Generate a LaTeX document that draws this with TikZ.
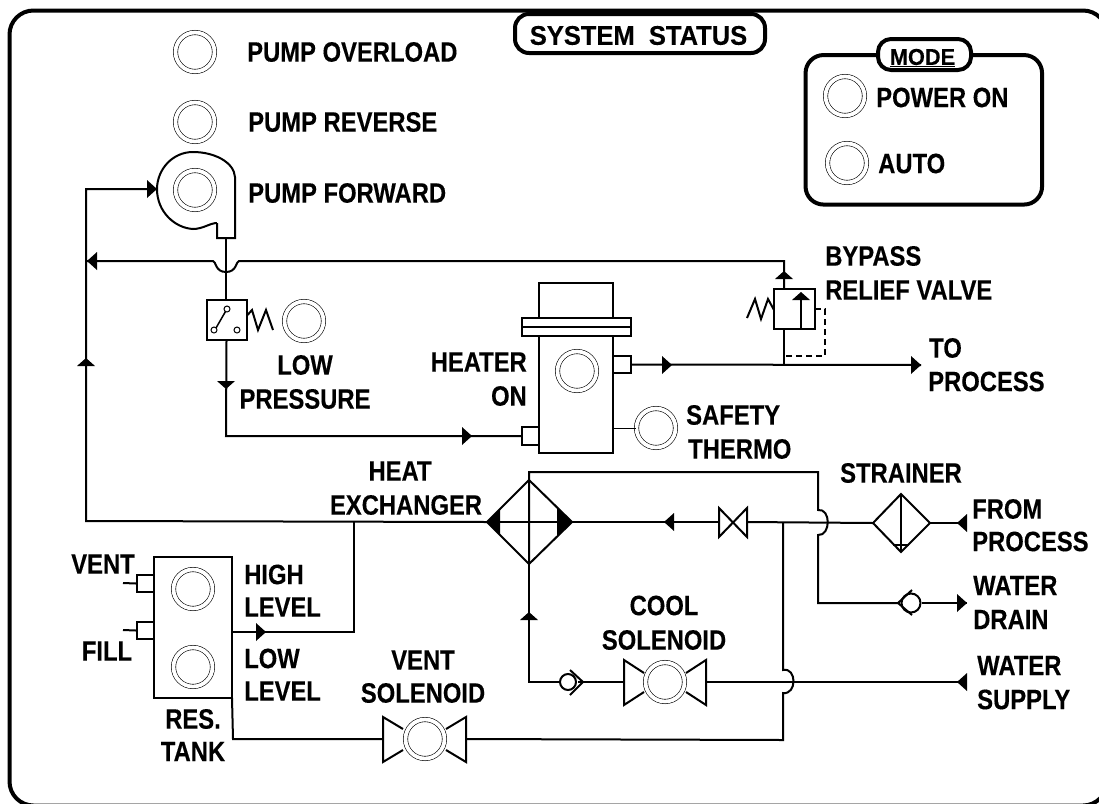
\documentclass[tikz,border=0pt]{standalone}
\usepackage{fontspec}
\setmainfont[FakeStretch=0.85,FakeBold=0.25]{Liberation Sans}
\newfontfamily\widefont[FakeStretch=0.945,FakeBold=0.25]{Liberation Sans}
\begin{document}
\begin{tikzpicture}[x=1pt,y=-1pt,
  wire/.style={line width=2pt,line join=miter},
  part/.style={line width=2pt,line join=miter},
  thickframe/.style={line width=4pt},
  lamp/.style={circle,draw,line width=0.6pt,double=white,double distance=3.8pt,minimum size=39pt,inner sep=0pt,fill=white},
  lbl/.style={font=\fontsize{28}{31}\selectfont\bfseries,align=center,inner sep=0pt},
  lbll/.style={lbl,align=left},
  head/.style={fill=black,draw=none}]
\useasboundingbox (0,0) rectangle (1099,803);
\fill[white] (0,0) rectangle (1099,803);
\newcommand{\arrR}[2]{\fill[head] (#1,#2-9) -- (#1+10,#2) -- (#1,#2+9) -- cycle;}
\newcommand{\arrL}[2]{\fill[head] (#1,#2-9) -- (#1-10,#2) -- (#1,#2+9) -- cycle;}
\newcommand{\arrU}[2]{\fill[head] (#1-9,#2) -- (#1,#2-8) -- (#1+9,#2) -- cycle;}
\newcommand{\arrD}[2]{\fill[head] (#1-9,#2) -- (#1,#2+8) -- (#1+9,#2) -- cycle;}
% frame (right and bottom sides fall at the page edge)
\clip (0,0) rectangle (1099,803);
\draw[thickframe,rounded corners=24pt] (9.5,10.5) rectangle (1107,805.5);
% system status
\node[thickframe,draw,fill=white,rounded corners=14pt,minimum width=250pt,minimum height=39pt,inner sep=0pt] (sysbox) at (640,33.5) {};
\node[lbl,font=\fontsize{27}{31}\selectfont\bfseries\widefont] (syst) at (638.5,35.5) {SYSTEM\ \ STATUS};
% mode
\node[thickframe,draw,rounded corners=18pt,minimum width=236.5pt,minimum height=149.5pt,inner sep=0pt] (modebox) at (923.8,129.8) {};
\node[thickframe,draw,fill=white,rounded corners=13pt,minimum width=93pt,minimum height=31pt,inner sep=0pt] (modetag) at (924.5,54.5) {};
\node[lbl,font=\fontsize{23}{26}\selectfont\bfseries\widefont] (modet) at (922.5,58) {\underline{MODE}};
\node[lamp] (lpower) at (845,96) {};
\node[lamp] (lauto) at (847,163) {};
\node[lbll,anchor=west] (tpower) at (876,97.5) {POWER ON};
\node[lbll,anchor=west] (tauto) at (878,163.5) {AUTO};
% status labels
\node[lamp] (lover) at (195,52) {};
\node[lbll,anchor=west] (tover) at (247,52) {PUMP OVERLOAD};
\node[lamp] (lrev) at (195,122) {};
\node[lbll,anchor=west] (trev) at (248,122) {PUMP REVERSE};
\node[lbll,anchor=west] (tfwd) at (248,193) {PUMP FORWARD};
% pump
\draw[part] (217,223) -- (217,238) -- (235,238) -- (235,177)
  .. controls (234,162) and (214,152) .. (193,152)
  .. controls (172,152) and (157,170) .. (157,189)
  .. controls (157,212) and (175,228) .. (193,229)
  .. controls (203,229) and (210,223) .. (217,223);
\node[lamp] (lfwd) at (195,190) {};
% left main wires
\coordinate (pumpin) at (157,189);
\coordinate (leftcorner) at (86,189);
\coordinate (leftbottom) at (86,521);
\coordinate (hxleft) at (487,522);
\draw[wire] (pumpin) -- (leftcorner) -- (leftbottom) -- (hxleft);
\arrR{147}{189}
\arrU{86}{366}
% return line with crossover
\coordinate (retend) at (86,261);
\coordinate (valvetop) at (784,261);
\draw[wire] (retend) -- (213,261) .. controls (216,261) and (215,272) .. (226,272)
  .. controls (237,272) and (236,261) .. (239,261) -- (valvetop) -- (784,289);
\arrL{97}{261}
\arrU{784}{279}
% switch
\draw[wire] (226,238) -- (226,300);
\node[part,draw,minimum size=40pt,inner sep=0pt] (switch) at (226.5,320) {};
\draw[line width=1pt] (227,309) circle (3pt) (214,330) circle (3pt) (237,330) circle (3pt);
\draw[line width=1.5pt] (225.5,311.5) -- (216,328);
\draw[part] (switch.east) ++(0,-5) -- (252,310) -- (258,330) -- (266,310) -- (273,330);
\node[lamp] (llow) at (304,321) {};
\node[lbl] (tlow) at (305,365) {LOW};
\node[lbl] (tpress) at (305,399) {PRESSURE};
% switch to heater
\node[part,draw,minimum width=17pt,minimum height=18pt,inner sep=0pt] (hin) at (530.5,436) {};
\draw[wire] (switch.south) -- (226,436) -- (hin.west);
\arrD{226}{381}
\arrR{462}{436}
% heater
\node[part,draw,minimum width=74pt,minimum height=135pt,inner sep=0pt] (heatbody) at (576,385.5) {};
\node[part,draw,minimum width=74pt,minimum height=36pt,inner sep=0pt] (heattop) at (576,300.5) {};
\node[part,draw,fill=white,minimum width=109pt,minimum height=18pt,inner sep=0pt] (flange) at (576.5,327) {};
\draw[line width=1.4pt] (flange.west) -- (flange.east);
\node[lamp] (lheat) at (577,371) {};
\node[part,draw,minimum width=18pt,minimum height=17pt,inner sep=0pt] (hout) at (622,364.5) {};
\node[lbl,anchor=east] (theat) at (527,362) {HEATER};
\node[lbl,anchor=east] (theat2) at (527,396) {ON};
\node[lamp] (lsafe) at (656,428) {};
\draw[line width=0.6pt] (613,428) -- (lsafe);
\node[lbll,anchor=west] (tsafe) at (686,415) {SAFETY};
\node[lbll,anchor=west] (tthermo) at (688,449) {THERMO};
% to process
\coordinate (toproc) at (921,365);
\draw[wire] (hout.east) -- (toproc);
\arrR{662}{365}
\arrR{911}{365}
\node[lbll,anchor=west] (tto) at (929,348) {TO};
\node[lbll,anchor=west] (tproc) at (928,381.5) {PROCESS};
% relief valve
\node[part,draw,minimum width=41pt,minimum height=40pt,inner sep=0pt] (valve) at (794.5,309) {};
\draw[wire] (784,329) -- (784,365);
\draw[wire] (801,300) -- (801,329);
\arrU{801}{300}
\draw[part] (774,310) -- (768,299) -- (761,319) -- (755,299) -- (747,318);
\draw[part,dash pattern=on 6pt off 4pt] (815,309) -- (825,309) -- (825,356) -- (784,356);
\node[lbll,anchor=west] (tbyp) at (825,256) {BYPASS};
\node[lbll,anchor=west] (trel) at (825,290) {RELIEF VALVE};
% heat exchanger
\node[lbl] (thx) at (400,471) {HEAT};
\node[lbl] (thx2) at (406,505) {EXCHANGER};
\draw[part] (487,522) -- (529,480) -- (572,522) -- (529,564) -- cycle;
\draw[part] (487,522) -- (572,522);
\fill[head] (487,522) -- (500,509) -- (500,535) -- cycle;
\fill[head] (572,522) -- (557,507) -- (557,537) -- cycle;
\coordinate (hxtop) at (529,472);
\coordinate (hxbot) at (529,564);
\coordinate (xjump) at (818,472);
\draw[wire] (hxbot) -- (hxtop) -- (xjump) -- (818,510)
  .. controls (831,508) and (831,536) .. (818,535) -- (818,603) -- (898,603);
% main line
\coordinate (bowl) at (719,522);
\coordinate (bowr) at (747,522);
\coordinate (strl) at (873,523);
\coordinate (junc1) at (783,522);
\draw[wire] (572,522) -- (bowl);
\draw[wire] (bowr) -- (strl);
\draw[part] (719,508) -- (747,537) -- (747,508) -- (719,537) -- cycle;
\arrL{674}{522}
% strainer
\draw[part] (873,523) -- (901,494) -- (930,523) -- (901,552) -- cycle;
\draw[part] (901,494) -- (901,552);
\draw[line width=1.4pt] (893,545) -- (909,545);
\coordinate (fromp) at (967,523);
\draw[wire] (930,523) -- (fromp);
\arrL{967}{523}
\node[lbl] (tstr) at (901,473) {STRAINER};
\node[lbll,anchor=west] (tfrom) at (972,509) {FROM};
\node[lbll,anchor=west] (tfrom2) at (972,541.5) {PROCESS};
% drain
\node[circle,draw,line width=2pt,minimum size=19pt,inner sep=0pt,fill=white] (drainc) at (911,603) {};
\draw[part] (912,590) -- (898,603) -- (912,615);
\coordinate (drainend) at (967,603);
\draw[wire] (drainc) -- (drainend);
\arrR{957}{603}
\node[lbll,anchor=west] (twd) at (973,585.5) {WATER};
\node[lbll,anchor=west] (twd2) at (973,619.5) {DRAIN};
% cool line
\node[lamp] (lcool) at (665,682) {};
\draw[part] (644,673) -- (624,660) -- (624,705) -- (644,692);
\draw[part] (686,673) -- (706,660) -- (706,705) -- (686,692);
\coordinate (supply) at (967,682);
\draw[wire] (706,682) -- (supply);
\arrL{967}{682}
\draw[wire] (624,682) -- (578,682);
\node[circle,draw,line width=2pt,minimum size=16pt,inner sep=0pt,fill=white] (cchk) at (568,682) {};
\draw[part] (570,670) -- (583,682) -- (570,695);
\draw[wire] (cchk) -- (529,682) -- (hxbot);
\arrU{529}{620}
\node[lbl] (tcool) at (664,605.5) {COOL};
\node[lbl] (tcool2) at (664,640) {SOLENOID};
\node[lbll,anchor=west] (tws) at (977,665.5) {WATER};
\node[lbll,anchor=west] (tws2) at (977,699.5) {SUPPLY};
% junction vertical with crossover to vent solenoid
\coordinate (ventr) at (466,739);
\draw[wire] (junc1) -- (783,670) .. controls (797,667) and (797,695) .. (783,693) -- (783,740) -- (ventr);
% vent solenoid
\node[lamp] (lvent) at (425,739) {};
\draw[part] (403,729) -- (383,717) -- (383,762) -- (403,750);
\draw[part] (446,729) -- (466,717) -- (466,762) -- (446,750);
\node[lbl] (tvent) at (423,660) {VENT};
\node[lbl] (tvent2) at (423,693) {SOLENOID};
% tank
\node[part,draw,minimum width=78pt,minimum height=141pt,inner sep=0pt] (tank) at (193,627.5) {};
\node[lamp] (lhigh) at (193,589) {};
\node[lamp] (llevel) at (193,667) {};
\node[part,draw,minimum width=17pt,minimum height=17pt,inner sep=0pt] (pvent) at (145.5,583.5) {};
\node[part,draw,minimum width=17pt,minimum height=17pt,inner sep=0pt] (pfill) at (145.5,630.5) {};
\coordinate (svent) at (123,583);
\coordinate (sfill) at (123,630);
\draw[part] (svent) -- (pvent.west);
\draw[part] (sfill) -- (pfill.west);
\node[lbl] (tv) at (103,564) {VENT};
\node[lbl] (tf) at (107,651) {FILL};
\node[lbl] (tres) at (193,719) {RES.};
\node[lbl] (ttank) at (193,751.5) {TANK};
\node[lbll,anchor=west] (thigh) at (244,574.5) {HIGH};
\node[lbll,anchor=west] (thigh2) at (244,607) {LEVEL};
\node[lbll,anchor=west] (tlow2) at (244,658.5) {LOW};
\node[lbll,anchor=west] (tlow3) at (244,691) {LEVEL};
\draw[wire] (232,632) -- (354,632) -- (354,521);
\arrR{256}{632}
\draw[wire] (232,698) -- (233,739) -- (383,739);
\end{tikzpicture}
\end{document}
